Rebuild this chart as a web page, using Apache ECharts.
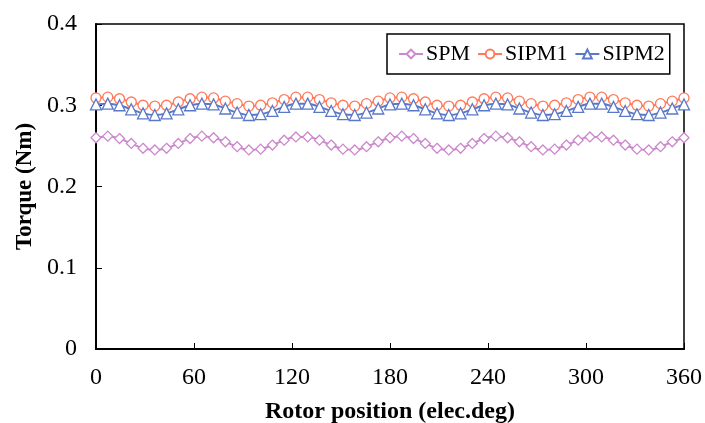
<!DOCTYPE html>
<html>
<head>
<meta charset="utf-8">
<script src="https://cdn.jsdelivr.net/npm/echarts@6/dist/echarts.min.js"></script>
<style>html,body{margin:0;padding:0;background:#fff}#c{width:705px;height:423px}</style>
</head>
<body>
<div id="c"></div>
<script>
const positions = [0,7.2,14.4,21.6,28.8,36,43.2,50.4,57.6,64.8,72,79.2,86.4,93.6,100.8,108,115.2,122.4,129.6,136.8,144,151.2,158.4,165.6,172.8,180,187.2,194.4,201.6,208.8,216,223.2,230.4,237.6,244.8,252,259.2,266.4,273.6,280.8,288,295.2,302.4,309.6,316.8,324,331.2,338.4,345.6,352.8,360];
const spm = [0.260,0.262,0.259,0.253,0.247,0.245,0.247,0.253,0.259,0.262,0.260,0.255,0.249,0.245,0.246,0.251,0.257,0.261,0.261,0.257,0.251,0.246,0.245,0.249,0.255,
             0.260,0.262,0.259,0.253,0.247,0.245,0.247,0.253,0.259,0.262,0.260,0.255,0.249,0.245,0.246,0.251,0.257,0.261,0.261,0.257,0.251,0.246,0.245,0.249,0.255,0.260];
const sipm1 = [0.309,0.310,0.308,0.304,0.300,0.299,0.300,0.304,0.308,0.310,0.309,0.305,0.302,0.299,0.300,0.303,0.307,0.310,0.310,0.307,0.303,0.300,0.299,0.302,0.305,
               0.309,0.310,0.308,0.304,0.300,0.299,0.300,0.304,0.308,0.310,0.309,0.305,0.302,0.299,0.300,0.303,0.307,0.310,0.310,0.307,0.303,0.300,0.299,0.302,0.305,0.309];
const sipm2 = [0.301,0.302,0.300,0.295,0.290,0.288,0.290,0.295,0.300,0.302,0.301,0.296,0.291,0.288,0.289,0.293,0.298,0.302,0.302,0.298,0.293,0.289,0.288,0.291,0.296,
               0.301,0.302,0.300,0.295,0.290,0.288,0.290,0.295,0.300,0.302,0.301,0.296,0.291,0.288,0.289,0.293,0.298,0.302,0.302,0.298,0.293,0.289,0.288,0.291,0.296,0.301];
const seriesNames = ['SPM','SIPM1','SIPM2'];
const xTicks = [0,60,120,180,240,300,360];
const yTicks = [0,0.1,0.2,0.3,0.4];

const font = '"Liberation Serif","Times New Roman",serif';
const colors = ['#cc88cc','#ff7a5a','#5a78c8'];
const symbols = ['diamond','circle','triangle'];
const datas = [spm, sipm1, sipm2];

const chart = echarts.init(document.getElementById('c'), null, {renderer:'canvas'});
chart.setOption({
  animation:false,
  grid:{left:96,right:21,top:24,bottom:74,show:true,borderColor:'#000',borderWidth:1.5,containLabel:false,outerBoundsMode:'none'},
  legend:{
    data:seriesNames,
    left:387, top:34,
    padding:[9,5,9,11],
    itemGap:7, itemWidth:24, itemHeight:11,
    borderColor:'#000', borderWidth:1.5, borderRadius:0,
    textStyle:{fontFamily:font,fontSize:22,color:'#000',padding:[0,0,0,-2]}
  },
  xAxis:{
    type:'value', min:xTicks[0], max:xTicks[xTicks.length-1], interval:60,
    axisLine:{show:true,lineStyle:{color:'#000',width:2}},
    axisTick:{show:true,inside:true,length:6,lineStyle:{color:'#000',width:1}},
    splitLine:{show:false},
    axisLabel:{fontFamily:font,fontSize:24,color:'#000',margin:17},
    name:'Rotor position (elec.deg)', nameLocation:'middle', nameGap:51,
    nameTextStyle:{fontFamily:font,fontSize:24,fontWeight:'bold',color:'#000'}
  },
  yAxis:{
    type:'value', min:yTicks[0], max:yTicks[yTicks.length-1], interval:0.1,
    axisLine:{show:true,lineStyle:{color:'#000',width:2}},
    axisTick:{show:true,inside:true,length:6,lineStyle:{color:'#000',width:1}},
    splitLine:{show:false},
    axisLabel:{fontFamily:font,fontSize:24,color:'#000',margin:19,formatter:v=>String(+v.toFixed(1))},
    name:'Torque (Nm)', nameLocation:'middle', nameGap:58,
    nameTextStyle:{fontFamily:font,fontSize:23,fontWeight:'bold',color:'#000'}
  },
  series: seriesNames.map((n,i)=>({
    name:n, type:'line', smooth:0.4,
    data: positions.map((p,j)=>[p, datas[i][j]]),
    symbol:symbols[i], symbolSize: i===2 ? 11 : 10,
    showAllSymbol:true,
    lineStyle:{color:colors[i],width:2},
    itemStyle:{color:'#fff',borderColor:colors[i],borderWidth:1.3},
    emphasis:{disabled:true}
  }))
});
</script>
</body>
</html>
